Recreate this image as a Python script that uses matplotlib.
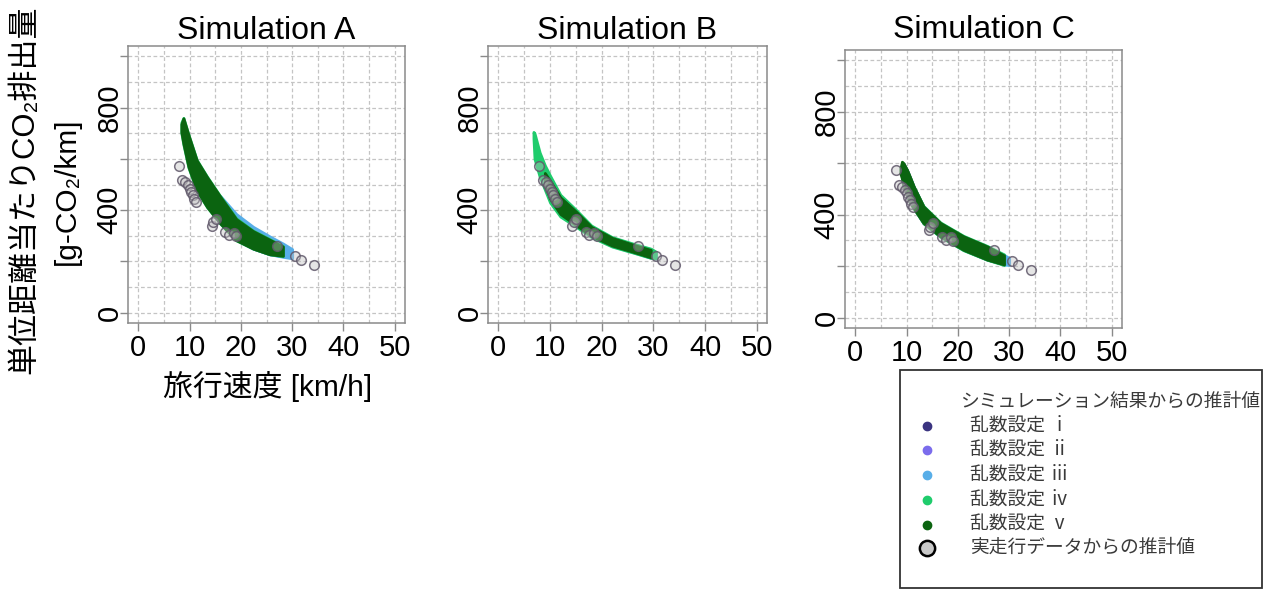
import numpy as np
import matplotlib
matplotlib.use('Agg')
import matplotlib.pyplot as plt
from matplotlib.patches import Rectangle

plt.rcParams['font.family'] = ['Liberation Sans', 'Noto Sans CJK JP', 'DejaVu Sans']

W, H = 1271, 594
nan = np.nan

# ---- data ----
panel_titles = ['Simulation A', 'Simulation B', 'Simulation C']
setting_labels = ['乱数設定 ⅰ', '乱数設定 ⅱ', '乱数設定 ⅲ', '乱数設定 ⅳ', '乱数設定 ⅴ']
header_label = 'シミュレーション結果からの推計値'
obs_label = '実走行データからの推計値'

# estimates from real driving data (same in every panel)
obs_speed = [7.9, 8.6, 9.2, 9.6, 10.0, 10.3, 10.6, 10.9, 11.3, 14.3, 14.6, 15.1,
             16.9, 17.6, 18.6, 19.0, 27.0, 30.5, 31.7, 34.2]
obs_co2 = [572, 517, 508, 497, 484, 470, 458, 443, 432, 340, 352, 366,
           313, 303, 312, 298, 262, 222, 204, 186]

# simulated clouds: lower / upper edge of each setting's band (rows i..v)
a_speed = [8.4, 8.8, 9.8, 11.4, 13.4, 16, 19.1, 22.4, 25.6, 28.2, 30.0]
a_lo = [[nan, nan, nan, nan, 415, 350, 285, 252, 230, 222, nan],
        [nan, nan, nan, nan, nan, 350, 284, 250, 228, 220, 216],
        [nan, nan, nan, nan, nan, 352, 285, 250, 228, 218, 212],
        [700, 655, 565, 476, 412, 347, 282, 250, 228, 221, nan],
        [705, 660, 568, 478, 413, 348, 283, 250, 228, 222, nan]]
a_hi = [[nan, nan, nan, nan, 520, 445, 370, 322, 288, 260, nan],
        [nan, nan, nan, nan, nan, 450, 378, 328, 292, 265, 240],
        [nan, nan, nan, nan, nan, 455, 385, 335, 298, 270, 248],
        [742, 760, 694, 596, 531, 454, 368, 320, 287, 260, nan],
        [735, 758, 692, 594, 529, 452, 365, 318, 285, 258, nan]]

b_speed = [6.8, 7, 8, 9, 10, 12, 15, 18, 22, 26, 29.5, 30.5]
b_lo = [[nan, nan, nan, 500, 445, 385, 342, 300, 262, 238, 216, nan],
        [nan, nan, nan, 500, 445, 385, 342, 300, 262, 238, 216, nan],
        [nan, nan, nan, nan, nan, 385, 340, 298, 260, 236, 214, 212],
        [680, 600, 530, 480, 430, 375, 336, 295, 258, 235, 214, 212],
        [nan, nan, nan, 500, 445, 385, 342, 300, 262, 238, 216, nan]]
b_hi = [[nan, nan, nan, 545, 515, 450, 395, 335, 292, 266, 245, nan],
        [nan, nan, nan, 545, 515, 450, 395, 335, 292, 266, 245, nan],
        [nan, nan, nan, nan, nan, 450, 395, 336, 293, 268, 248, 236],
        [705, 700, 625, 575, 535, 460, 402, 340, 295, 270, 250, 238],
        [nan, nan, nan, 545, 515, 450, 395, 335, 292, 266, 245, nan]]

c_speed = [8.8, 9.1, 9.4, 10.1, 10.7, 11.4, 13.3, 16.6, 21.1, 25.7, 29.0, 30.0]
c_lo = [[nan, nan, 512, 478, 447, 426, 368, 316, 264, 226, 208, nan],
        [nan, nan, 512, 478, 447, 426, 368, 316, 264, 226, 208, nan],
        [nan, nan, nan, nan, nan, nan, 370, 318, 265, 228, 206, 205],
        [nan, 545, 512, 478, 447, 426, 366, 314, 262, 225, 205, nan],
        [560, 540, 510, 475, 445, 425, 368, 316, 264, 226, 207, nan]]
c_hi = [[nan, nan, 598, 572, 543, 508, 430, 366, 314, 276, 242, nan],
        [nan, nan, 598, 572, 543, 508, 430, 366, 314, 276, 242, nan],
        [nan, nan, nan, nan, nan, nan, 430, 366, 314, 276, 244, 232],
        [nan, 604, 598, 572, 543, 508, 434, 370, 318, 279, 246, nan],
        [580, 606, 600, 574, 545, 510, 432, 368, 316, 277, 242, nan]]

x_ticks = [0, 10, 20, 30, 40, 50]
y_ticks = [0, 200, 400, 600, 800, 1000]
y_ticklabels = ['0', '', '400', '', '800', '']

# ---- styling ----
setting_colors = ['#3b3480', '#7b6cec', '#58aee8', '#1fcc6c', '#0b6410']
frame_col = '#8a8a8a'
grid_col = '#c4c4c4'

fig = plt.figure(figsize=(W / 100, H / 100), dpi=100)

# axes boxes in pixels: left, top, right, bottom
boxes = [(128, 46, 405, 323), (488, 46, 767, 323), (845, 50, 1122, 328)]
title_pads = [5, 5, 9]
panels = [(a_speed, a_lo, a_hi), (b_speed, b_lo, b_hi), (c_speed, c_lo, c_hi)]

for (l, t, r, b), title, tpad, (spd, lo, hi) in zip(boxes, panel_titles, title_pads, panels):
    ax = fig.add_axes([l / W, 1 - b / H, (r - l) / W, (b - t) / H])
    ax.set_xlim(-2, 52)
    ax.set_ylim(-40, 1040)

    for x in np.arange(0, 51, 5):
        ax.axvline(x, color=grid_col, lw=0.9, ls=(0, (3, 2)), zorder=0)
    for y in np.arange(0, 1001, 100):
        ax.axhline(y, color=grid_col, lw=0.9, ls=(0, (3, 2)), zorder=0)

    for k in range(5):
        ax.fill_between(spd, lo[k], hi[k], facecolor=setting_colors[k],
                        edgecolor=setting_colors[k], lw=2.0, zorder=2 + k)

    ax.scatter(obs_speed, obs_co2, s=48, facecolor=(0.75, 0.75, 0.75, 0.4),
               edgecolor=(0.38, 0.35, 0.42, 0.85), lw=1.1, zorder=10)

    for s in ax.spines.values():
        s.set_color(frame_col)
        s.set_linewidth(1.1)
    ax.set_xticks(x_ticks)
    ax.set_xticklabels([str(v) for v in x_ticks])
    ax.set_yticks(y_ticks)
    ax.set_yticklabels(y_ticklabels, rotation=90, va='center')
    ax.tick_params(direction='out', length=6, width=1, color=frame_col,
                   labelsize=21)
    ax.tick_params(axis='x', pad=2)
    ax.tick_params(axis='y', pad=-3)
    ax.set_title(title, fontsize=23, pad=tpad)

# axis labels (only on the left panel)
fig.text(25 / W, 1 - 190 / H, '単位距離当たりCO₂排出量', rotation=90,
         ha='center', va='center', fontsize=22.3)
fig.text(67 / W, 1 - 191 / H, '[g-CO₂/km]', rotation=90,
         ha='center', va='center', fontsize=21.5)
fig.text(268 / W, 1 - 387 / H, '旅行速度 [km/h]', ha='center', va='center',
         fontsize=21.5)

# legend box drawn by hand in pixel units
lx0, ly0, lx1, ly1 = 900, 370, 1262, 588
lax = fig.add_axes([lx0 / W, 1 - ly1 / H, (lx1 - lx0) / W, (ly1 - ly0) / H])
lax.set_xlim(0, lx1 - lx0)
lax.set_ylim(ly1 - ly0, 0)
lax.axis('off')
lax.add_patch(Rectangle((0, 0), lx1 - lx0, ly1 - ly0, fill=False,
                        edgecolor='#333333', lw=1.3, clip_on=False))

txt_col = '#3a3a3a'
lax.text(60, 32, header_label, fontsize=13.5, color=txt_col, va='center',
         clip_on=False)
rows = [56, 80, 105, 130, 155]
for y, lab, col in zip(rows, setting_labels, setting_colors):
    lax.plot([27], [y], 'o', ms=6, color=col, mec=col)
    lax.text(70, y, lab, fontsize=13.5, color=txt_col, va='center')
lax.plot([27], [178], 'o', ms=11, mfc='#c8c8c8', mec='black', mew=1.8)
lax.text(70, 178, obs_label, fontsize=13.5, color=txt_col, va='center')

fig.savefig('out.png', dpi=100, facecolor='white')
